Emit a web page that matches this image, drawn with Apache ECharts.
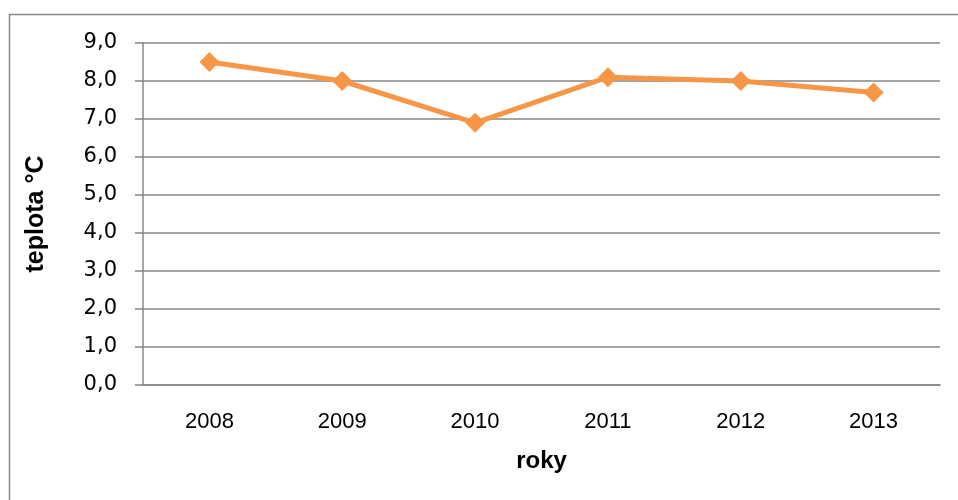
<!DOCTYPE html>
<html>
<head>
<meta charset="utf-8">
<script src="https://cdn.jsdelivr.net/npm/echarts@6/dist/echarts.min.js"></script>
<style>html,body{margin:0;padding:0;background:#fff}#c{width:958px;height:500px}</style>
</head>
<body>
<div id="c"></div>
<script>
var years = ['2008', '2009', '2010', '2011', '2012', '2013'];
var teplota = [8.5, 8.0, 6.9, 8.1, 8.0, 7.7];

var chart = echarts.init(document.getElementById('c'), null, {renderer: 'canvas'});
var sans = '"Liberation Sans", Arial, sans-serif';
var dv = '"DejaVu Sans", sans-serif';
chart.setOption({
  animation: false,
  backgroundColor: '#fff',
  graphic: [{
    type: 'rect', shape: {x: 9.5, y: 14.5, width: 960, height: 500},
    style: {fill: 'none', stroke: '#868686', lineWidth: 1.5}
  }],
  grid: {left: 143, right: 18, top: 43, bottom: 115},
  xAxis: {
    type: 'category', data: years, boundaryGap: true,
    name: 'roky', nameLocation: 'middle', nameGap: 64,
    nameTextStyle: {fontFamily: sans, fontSize: 24, fontWeight: 'bold', color: '#000'},
    axisLine: {show: true, lineStyle: {color: '#868686', width: 1.5}},
    axisTick: {show: false},
    axisLabel: {fontFamily: sans, fontSize: 22, color: '#000', margin: 26}
  },
  yAxis: {
    type: 'value', min: 0, max: 9, interval: 1,
    name: 'teplota °C', nameLocation: 'middle', nameGap: 94, nameRotate: 90,
    nameTextStyle: {fontFamily: sans, fontSize: 25, fontWeight: 'bold', color: '#000'},
    axisLine: {show: true, lineStyle: {color: '#868686', width: 1.5}},
    axisTick: {show: true, length: 8, lineStyle: {color: '#868686', width: 1.5}},
    axisLabel: {fontFamily: dv, fontSize: 21, color: '#000', margin: 26,
      formatter: function (v) { return v.toFixed(1).replace('.', ','); }},
    splitLine: {show: true, lineStyle: {color: '#868686', width: 1.5}}
  },
  series: [{
    type: 'line', data: teplota,
    symbol: 'diamond', symbolSize: 20,
    lineStyle: {color: '#F79646', width: 5},
    itemStyle: {color: '#F79646'}
  }]
});
</script>
</body>
</html>
